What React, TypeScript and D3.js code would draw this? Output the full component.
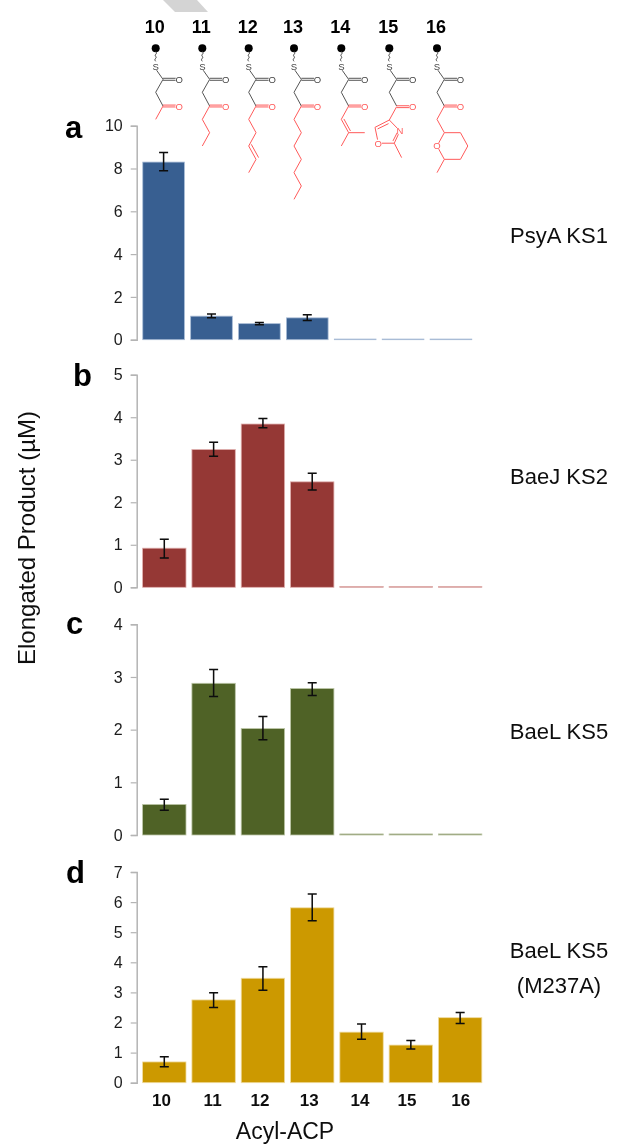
import React, { useEffect, useRef } from 'react';
import * as d3 from 'd3';

const categories = ['10', '11', '12', '13', '14', '15', '16'];

const psyaValues = [8.3, 1.1, 0.75, 1.02, 0.03, 0.03, 0.03];
const psyaHigh = [8.75, 1.2, 0.8, 1.17, null, null, null];
const psyaLow = [7.9, 1.03, 0.7, 0.9, null, null, null];

const baejValues = [0.92, 3.24, 3.84, 2.48, 0.02, 0.02, 0.02];
const baejHigh = [1.13, 3.41, 3.97, 2.68, null, null, null];
const baejLow = [0.69, 3.08, 3.75, 2.29, null, null, null];

const baelValues = [0.58, 2.88, 2.02, 2.78, 0.02, 0.02, 0.02];
const baelHigh = [0.68, 3.14, 2.25, 2.89, null, null, null];
const baelLow = [0.47, 2.63, 1.81, 2.65, null, null, null];

const mutantValues = [0.69, 2.75, 3.47, 5.81, 1.68, 1.25, 2.16];
const mutantHigh = [0.86, 2.99, 3.85, 6.27, 1.95, 1.4, 2.33];
const mutantLow = [0.53, 2.5, 3.07, 5.38, 1.44, 1.12, 1.97];

const panels = [
  { letter: 'a', letterX: 65, letterY: 138, values: psyaValues, high: psyaHigh, low: psyaLow, max: 10, step: 2, top: 125.7, bottom: 339.7, right: 474.9, pad: 0.13, fill: '#375f91', edge: '#a9bcd6', name: ['PsyA KS1'], nameY: 243 },
  { letter: 'b', letterX: 73, letterY: 386, values: baejValues, high: baejHigh, low: baejLow, max: 5, step: 1, top: 374.7, bottom: 587.3, right: 484.8, pad: 0.12, fill: '#953735', edge: '#e0b0ae', name: ['BaeJ KS2'], nameY: 484 },
  { letter: 'c', letterX: 66, letterY: 634, values: baelValues, high: baelHigh, low: baelLow, max: 4, step: 1, top: 624.3, bottom: 835, right: 484.8, pad: 0.12, fill: '#4f6228', edge: '#bcc6a6', name: ['BaeL KS5'], nameY: 739 },
  { letter: 'd', letterX: 66, letterY: 883, values: mutantValues, high: mutantHigh, low: mutantLow, max: 7, step: 1, top: 872, bottom: 1082.7, right: 484.8, pad: 0.12, fill: '#cc9900', edge: '#f0dca0', name: ['BaeL KS5', '(M237A)'], nameY: 958 },
];

// skeletal formulae, in bond-lattice units from the black ball
const ballX = [155.7, 202.3, 248.7, 294, 341.3, 389.3, 437];
const headBonds = [[[0, 1.55], [1, 2.33], [0, 3.3], [1, 4.33]]];
const tails: Record<string, number[][][]> = {
  '10': [[[1, 4.33], [0, 5.33]]],
  '11': [[[1, 4.33], [0, 5.33], [1, 6.33], [0, 7.33]]],
  '12': [[[1, 4.33], [0, 5.33], [1, 6.33], [0, 7.33], [1, 8.33], [0, 9.33]], [[0.35, 7.2], [1.35, 8.2]]],
  '13': [[[1, 4.33], [0, 5.33], [1, 6.33], [0, 7.33], [1, 8.33], [0, 9.33], [1, 10.33], [0, 11.33]]],
  '14': [[[1, 4.33], [0, 5.33], [1, 6.33], [3.2, 6.33]], [[1, 6.33], [0, 7.33]], [[0.35, 5.3], [1.25, 6.2]]],
  '15': [
    [[1, 4.38], [0, 5.38], [1.45, 6.2], [0.68, 7.12], [-1.5, 7.12], [-1.95, 5.93], [0, 5.38]],
    [[0.68, 7.12], [1.68, 8.2]],
    [[-1.6, 6.05], [-0.1, 5.65]],
    [[1.1, 6.3], [0.5, 6.95]],
  ],
  '16': [[[1, 4.33], [0, 5.33], [1, 6.33], [3.2, 6.33], [4.2, 7.33], [3.2, 8.33], [1, 8.33], [0, 7.33], [1, 6.33]], [[1, 8.33], [0, 9.33]]],
};
const tailAtoms: Record<string, { t: string; p: number[] }[]> = {
  '15': [{ t: 'N', p: [1.45, 6.2] }, { t: 'O', p: [-1.5, 7.12] }],
  '16': [{ t: 'O', p: [0, 7.33] }],
};

const labelNudge = [-2.8, -1, -3, -3, -1.5, -3.8, 0.5];
const sansFont = '"Liberation Sans", Arial, sans-serif';

const App = () => {
  const svgRef = useRef<SVGSVGElement>(null);

  useEffect(() => {
    const svg = d3.select(svgRef.current);
    svg.selectAll('*').remove();

    svg.append('defs').append('filter').attr('id', 'soft')
      .attr('x', 0).attr('y', 0).attr('width', 1).attr('height', 1)
      .attr('filterUnits', 'userSpaceOnUse')
      .attr('width', 624).attr('height', 1144)
      .append('feGaussianBlur').attr('stdDeviation', 0.35);

    const root = svg.append('g').attr('filter', 'url(#soft)').attr('font-family', sansFont);

    // scrap of watermark at the top edge
    root.append('path').attr('d', 'M163,0L197,0L208,12L175,12Z').attr('fill', '#d4d4d4');

    panels.forEach((p) => {
      const x = d3.scaleBand().domain(categories).range([139.65, p.right]).paddingInner(p.pad).paddingOuter(p.pad / 2);
      const y = d3.scaleLinear().domain([0, p.max]).range([p.bottom, p.top]);

      const axis = root.append('g')
        .attr('transform', 'translate(136.7,0)')
        .call(d3.axisLeft(y).tickValues(d3.range(0, p.max + 1, p.step)).tickSize(6).tickPadding(8).tickFormat(d3.format('d')));
      axis.select('.domain').attr('stroke', '#b4b4b4').attr('stroke-width', 1.5);
      axis.selectAll('.tick line').attr('stroke', '#b4b4b4').attr('stroke-width', 1.2);
      axis.selectAll('text').attr('font-size', 16).attr('font-family', sansFont).attr('fill', '#1c1c1c');

      const rows = categories.map((c, i) => ({ c, v: p.values[i], hi: p.high[i], lo: p.low[i] }));

      root.append('g').selectAll('rect').data(rows).join('rect')
        .attr('x', (d) => x(d.c)!)
        .attr('width', x.bandwidth())
        .attr('y', (d) => y(d.v))
        .attr('height', (d) => y(0) - y(d.v))
        .attr('fill', p.fill)
        .attr('stroke', p.edge)
        .attr('stroke-width', 0.8);

      const bars = root.append('g').attr('stroke', '#0a0a0a').attr('stroke-width', 1.5).attr('fill', 'none');
      rows.filter((d) => d.hi !== null).forEach((d) => {
        const cx = x(d.c)! + x.bandwidth() / 2;
        const path = d3.path();
        path.moveTo(cx - 4.5, y(d.hi!)); path.lineTo(cx + 4.5, y(d.hi!));
        path.moveTo(cx, y(d.hi!)); path.lineTo(cx, y(d.lo!));
        path.moveTo(cx - 4.5, y(d.lo!)); path.lineTo(cx + 4.5, y(d.lo!));
        bars.append('path').attr('d', path.toString());
      });

      root.append('text').text(p.letter)
        .attr('x', p.letterX).attr('y', p.letterY)
        .attr('font-size', 31).attr('font-weight', 700).attr('fill', '#000');

      p.name.forEach((line, i) => {
        root.append('text').text(line)
          .attr('x', 559).attr('y', p.nameY + i * 35)
          .attr('text-anchor', 'middle').attr('font-size', 22).attr('fill', '#111');
      });

      // x labels only under the last panel
      if (p.letter === 'd') {
        categories.forEach((c, i) => {
          root.append('text').text(c)
            .attr('x', x(c)! + x.bandwidth() / 2 + labelNudge[i]).attr('y', 1106)
            .attr('text-anchor', 'middle').attr('font-size', 17).attr('font-weight', 700).attr('fill', '#111');
        });
      }
    });

    root.append('text').text('Acyl-ACP')
      .attr('x', 285).attr('y', 1139)
      .attr('text-anchor', 'middle').attr('font-size', 23).attr('fill', '#111');

    root.append('text').text('Elongated Product (µM)')
      .attr('transform', 'translate(35,538) rotate(-90)')
      .attr('text-anchor', 'middle').attr('font-size', 24).attr('fill', '#111');

    // structures above panel a
    const ballY = 48.3;
    const u = 7.33;
    const v = 13.33;
    categories.forEach((c, i) => {
      const g = root.append('g').attr('transform', `translate(${ballX[i]},${ballY})`);
      const bond = d3.line<number[]>().x((d) => d[0] * u).y((d) => d[1] * v);

      root.append('text').text(c)
        .attr('x', ballX[i] - 1).attr('y', 33)
        .attr('text-anchor', 'middle').attr('font-size', 18).attr('font-weight', 700).attr('fill', '#000');

      g.append('circle').attr('r', 4).attr('fill', '#000');
      g.append('path')
        .attr('d', d3.line().curve(d3.curveBasis)([[0, 3], [1.5, 5], [-1.5, 7], [1.5, 9], [-1.5, 11], [0, 13]]) as string)
        .attr('fill', 'none').attr('stroke', '#444').attr('stroke-width', 1);

      headBonds.forEach((b) => {
        g.append('path').attr('d', bond(b) as string).attr('fill', 'none').attr('stroke', '#555').attr('stroke-width', 1);
      });
      g.append('path').attr('d', bond([[1, 2.25], [2.75, 2.25]]) as string).attr('stroke', '#555').attr('fill', 'none');
      g.append('path').attr('d', bond([[1, 2.4], [2.75, 2.4]]) as string).attr('stroke', '#555').attr('fill', 'none');

      const red = '#ff5a5a';
      const oy = c === '15' ? 4.38 : 4.33;
      g.append('path').attr('d', bond([[1, oy - 0.07], [2.75, oy - 0.07]]) as string).attr('stroke', red).attr('fill', 'none');
      g.append('path').attr('d', bond([[1, oy + 0.07], [2.75, oy + 0.07]]) as string).attr('stroke', red).attr('fill', 'none');
      tails[c].forEach((b) => {
        g.append('path').attr('d', bond(b) as string).attr('fill', 'none').attr('stroke', red).attr('stroke-width', 1);
      });

      const atom = (t: string, px: number[], color: string) => {
        g.append('circle').attr('cx', px[0] * u).attr('cy', px[1] * v).attr('r', 3.6).attr('fill', '#fff');
        g.append('text').text(t)
          .attr('x', px[0] * u).attr('y', px[1] * v + 3.4)
          .attr('text-anchor', 'middle').attr('font-size', 9.5).attr('fill', color);
      };
      atom('S', [0, 1.375], '#444');
      atom('O', [3.2, 2.35], '#444');
      atom('O', [3.2, oy + 0.02], red);
      (tailAtoms[c] || []).forEach((a) => atom(a.t, a.p, red));
    });
  }, []);

  return (
    <svg
      ref={svgRef}
      width={624}
      height={1144}
      style={{ position: 'absolute', left: 0, top: 0, background: '#fff' }}
    />
  );
};

export default App;
